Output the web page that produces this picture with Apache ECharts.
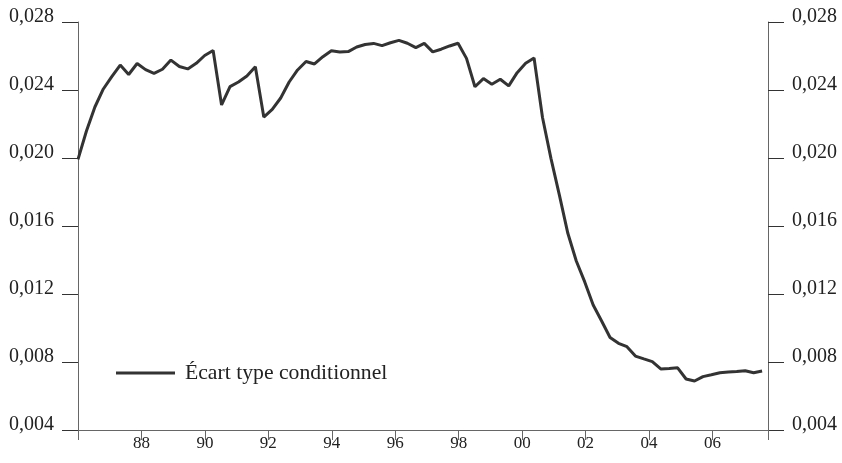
<!DOCTYPE html>
<html>
<head>
<meta charset="utf-8">
<script src="https://cdn.jsdelivr.net/npm/echarts@6/dist/echarts.min.js"></script>
<style>
  html, body { margin: 0; padding: 0; background: #fff; }
  #chart { width: 842px; height: 463px; }
</style>
</head>
<body>
<div id="chart"></div>
<script>
const seriesName = 'Écart type conditionnel'
const ecartType = [
  0.01992, 0.02159, 0.02300, 0.02406, 0.02479, 0.02547, 0.02491, 0.02556, 0.02520, 0.02498,
  0.02522, 0.02576, 0.02538, 0.02524, 0.02557, 0.02603, 0.02632, 0.02312, 0.02420, 0.02447,
  0.02482, 0.02537, 0.02241, 0.02286, 0.02353, 0.02447, 0.02518, 0.02568, 0.02553, 0.02596,
  0.02631, 0.02624, 0.02626, 0.02653, 0.02668, 0.02674, 0.02661, 0.02678, 0.02692, 0.02675,
  0.02649, 0.02674, 0.02624, 0.02640, 0.02659, 0.02675, 0.02586, 0.02419, 0.02467, 0.02434,
  0.02463, 0.02424, 0.02502, 0.02557, 0.02588, 0.02238, 0.01998, 0.01782, 0.01557, 0.01394,
  0.01271, 0.01135, 0.01041, 0.00944, 0.00910, 0.00890, 0.00835, 0.00818, 0.00802, 0.00759,
  0.00762, 0.00766, 0.00700, 0.00688, 0.00714, 0.00725, 0.00737, 0.00741, 0.00744, 0.00749,
  0.00737, 0.00747
]
// axe des années
const yearMin = 1986
const yearMax = 2007.75
const yearStep = 2
// axe des valeurs
const yMin = 0.004
const yMax = 0.028
const yStep = 0.004

const textColor = '#222'
const axisColor = '#666'
const tickColor = '#333'
const serif = '"Liberation Serif", "DejaVu Serif", serif'

const chart = echarts.init(document.getElementById('chart'))

const yLabel = {
  fontFamily: serif,
  fontSize: 20,
  color: textColor,
  margin: 24,
  verticalAlign: 'bottom',
  lineHeight: 10, // chiffres posés sur le tiret
  formatter: v => v.toFixed(3).replace('.', ',')
}

const yAxisBase = {
  type: 'value',
  min: yMin,
  max: yMax,
  interval: yStep,
  axisLine: { show: true, lineStyle: { color: axisColor, width: 1 } },
  axisTick: { show: true, inside: false, length: 16, lineStyle: { color: tickColor } },
  splitLine: { show: false }
}

const option = {
  animation: false,
  backgroundColor: '#fff',
  grid: { left: 78, right: 74, top: 22, bottom: 33, containLabel: false },
  legend: {
    data: [seriesName],
    left: 116,
    top: 362,
    padding: 0,
    icon: 'rect',
    itemWidth: 59,
    itemHeight: 3,
    textStyle: {
      fontFamily: serif,
      fontSize: 21.7,
      color: textColor,
      padding: [0, 0, 0, 5]
    }
  },
  xAxis: [
    {
      // position des observations (indice), non affiché
      type: 'value',
      position: 'top',
      min: 0,
      max: 81.7,
      show: false
    },
    {
      type: 'value',
      position: 'bottom',
      min: yearMin,
      max: yearMax,
      interval: yearStep,
      axisLine: { show: true, lineStyle: { color: axisColor, width: 1 } },
      axisTick: { show: true, length: 10, lineStyle: { color: axisColor } },
      splitLine: { show: false },
      axisLabel: {
        fontFamily: serif,
        fontSize: 17,
        color: textColor,
        margin: 5,
        showMinLabel: true,
        showMaxLabel: true,
        formatter: v => (v % 2 === 0 && v !== yearMin) ? String(v).slice(2) : ''
      }
    }
  ],
  yAxis: [
    Object.assign({}, yAxisBase, { position: 'left', axisLabel: yLabel }),
    Object.assign({}, yAxisBase, { position: 'right', axisLabel: yLabel })
  ],
  series: [
    {
      name: seriesName,
      type: 'line',
      xAxisIndex: 0,
      yAxisIndex: 0,
      showSymbol: false,
      symbol: 'none',
      lineStyle: { color: '#333', width: 3 },
      itemStyle: { color: '#333' },
      data: ecartType.map((v, i) => [i, v])
    }
  ]
}

chart.setOption(option)
window.onresize = () => {
  chart.resize()
}
</script>
</body>
</html>
